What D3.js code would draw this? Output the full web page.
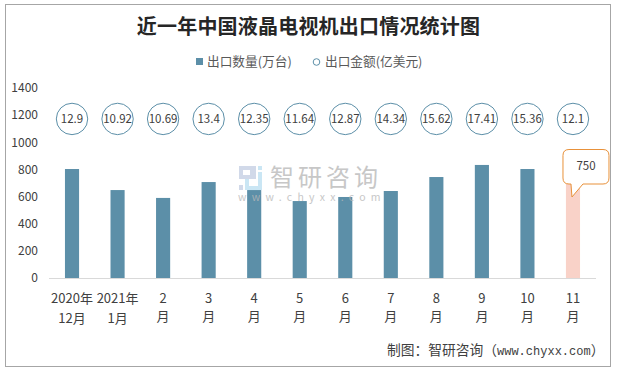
<!DOCTYPE html>
<html><head><meta charset="utf-8">
<script src="https://cdn.jsdelivr.net/npm/d3@7/dist/d3.min.js"></script>
<style>html,body{margin:0;padding:0;background:#fff}svg{display:block}</style>
</head><body><svg id="c" width="617" height="370"></svg>
<script>
const titleText = "近一年中国液晶电视机出口情况统计图";
const seriesNames = ["出口数量(万台)", "出口金额(亿美元)"];
const catTop = ["2020年","2021年","2","3","4","5","6","7","8","9","10","11"];
const catBottom = ["12月","1月","月","月","月","月","月","月","月","月","月","月"];
const quantity = [803,648,590,707,648,567,597,641,744,833,803,750];
const amount = ["12.9","10.92","10.69","13.4","12.35","11.64","12.87","14.34","15.62","17.41","15.36","12.1"];
const yTicks = [0,200,400,600,800,1000,1200,1400];
const amountRow = 1172;
const highlight = 11;
const sans = "'Noto Sans CJK SC',sans-serif";

const svg = d3.select("#c");
svg.append("rect").attr("x",5.5).attr("y",4.5).attr("width",605).attr("height",362)
  .attr("fill","#fff").attr("stroke","#a6a6a6").attr("stroke-width",1);

const x = d3.scaleBand().domain(d3.range(12)).range([49.25,595.75]).paddingInner(0.69).paddingOuter(0.345);
const y = d3.scaleLinear().domain([0,1400]).range([278,88]);

// bars
svg.append("g").selectAll("rect").data(quantity).join("rect")
  .attr("x",(d,i)=>x(i)).attr("width",x.bandwidth())
  .attr("y",d=>y(d)).attr("height",d=>y(0)-y(d))
  .attr("fill",(d,i)=>i===highlight?"#f9d2c8":"#5c8fa8");

// watermark, semi-transparent, over the bars
const wm = svg.append("g").attr("opacity",0.78);
wm.append("text").attr("x",270).attr("y",186).attr("font-family",sans).attr("font-size",24)
  .attr("letter-spacing",4).attr("fill","#b8b8b8").text("智研咨询");
wm.append("text").attr("x",238).attr("y",201).attr("font-family",sans).attr("font-size",10.5)
  .attr("letter-spacing",5.3).attr("fill","#b8b8b8").text("www.chyxx.com");
wm.append("path").attr("fill-rule","evenodd").attr("fill","#c5cfe3")
  .attr("d","M239 166H256V179H239ZM243 170V175H250V170Z");
wm.append("rect").attr("x",239).attr("y",185).attr("width",4).attr("height",5).attr("fill","#c5cfe3");
wm.append("path").attr("fill","#bcdff2")
  .attr("d","M258 166H262V170H258ZM258 172H262V190H245V179H249V186H258Z");

// axes
const ya = d3.axisLeft(y).tickValues(yTicks).tickSize(0).tickPadding(0).tickFormat(d3.format("d"));
const yg = svg.append("g").attr("transform","translate(38,0)").call(ya);
yg.select(".domain").remove();
yg.selectAll("text").attr("font-family",sans).attr("font-size",12).attr("fill","#404040");
svg.append("line").attr("x1",49).attr("x2",596).attr("y1",y(0)+.5).attr("y2",y(0)+.5).attr("stroke","#d9d9d9");

const cx = i => x(i)+x.bandwidth()/2;
const lab = svg.append("g").attr("font-family",sans).attr("font-size",13).attr("fill","#404040").attr("text-anchor","middle");
lab.selectAll(".a").data(catTop).join("text").attr("x",(d,i)=>cx(i)).attr("y",303).text(d=>d);
lab.selectAll(".b").data(catBottom).join("text").attr("x",(d,i)=>cx(i)).attr("y",(d,i)=>i<2?323:321).text(d=>d);

// circles
const cg = svg.append("g");
cg.selectAll("circle").data(amount).join("circle").attr("cx",(d,i)=>cx(i)).attr("cy",y(amountRow)).attr("r",15.7)
  .attr("fill","#fff").attr("stroke","#5c8fa8").attr("stroke-width",1);
cg.selectAll("text").data(amount).join("text").attr("x",(d,i)=>cx(i)).attr("y",y(amountRow)+4)
  .attr("text-anchor","middle").attr("font-family",sans).attr("font-size",11.5).attr("fill","#404040").text(d=>d);

// callout
const bx = cx(highlight);
svg.append("path").attr("d",`M${bx-4},149.5 H${bx+30} q6,0 6,6 V178 q0,6 -6,6 H${bx+10} L${bx-1},197 L${bx-2},184 H${bx-4} q-6,0 -6,-6 V155.5 q0,-6 6,-6 Z`)
  .attr("fill","#fff").attr("stroke","#e8913a").attr("stroke-width",1);
svg.append("text").attr("x",586).attr("y",170).attr("text-anchor","middle").attr("font-family",sans)
  .attr("font-size",11.5).attr("fill","#404040").text(quantity[highlight]);

// title, legend, note
svg.append("text").attr("x",308.5).attr("y",34).attr("text-anchor","middle").attr("font-family",sans)
  .attr("font-size",20).attr("letter-spacing",0.2).attr("font-weight",700).attr("fill","#262626").text(titleText);
svg.append("rect").attr("x",196).attr("y",58).attr("width",7).attr("height",7).attr("fill","#5c8fa8");
svg.append("text").attr("x",207).attr("y",66).attr("font-family",sans).attr("font-size",12.7).attr("fill","#595959").text(seriesNames[0]);
svg.append("circle").attr("cx",316.5).attr("cy",62).attr("r",3.3).attr("fill","#fff").attr("stroke","#5c8fa8");
svg.append("text").attr("x",325).attr("y",66).attr("font-family",sans).attr("font-size",12.7).attr("fill","#595959").text(seriesNames[1]);
const note = svg.append("text").attr("x",387).attr("y",355).attr("font-family",sans).attr("font-size",13.75).attr("fill","#404040");
note.append("tspan").text("制图：智研咨询（");
note.append("tspan").attr("font-family","'Liberation Mono',monospace").attr("font-size",12).text("www.chyxx.com");
note.append("tspan").text("）");
</script></body></html>
